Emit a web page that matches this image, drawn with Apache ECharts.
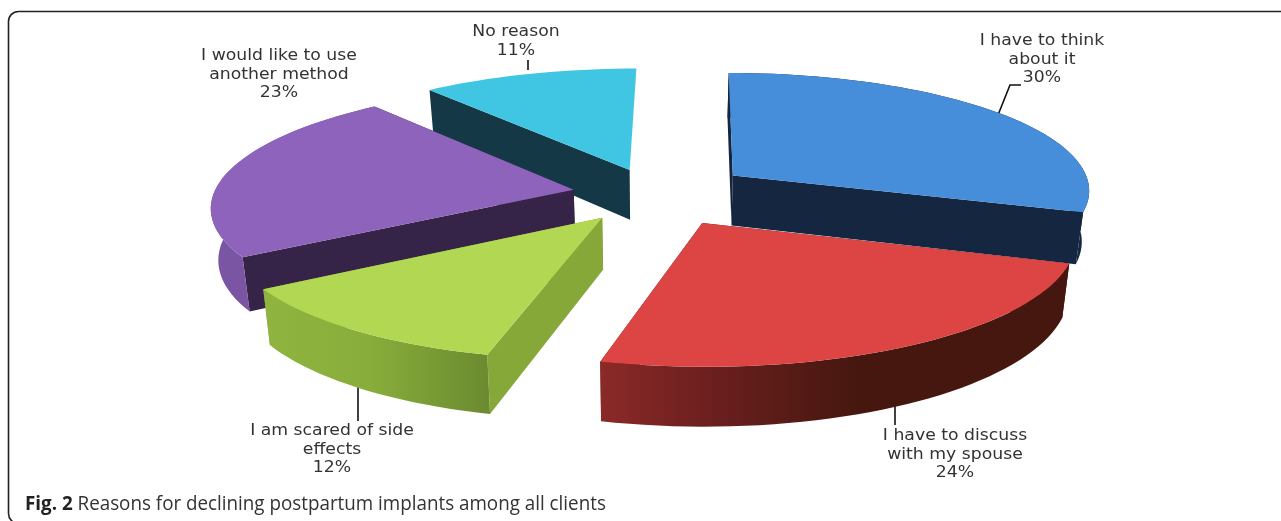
<!DOCTYPE html>
<html><head><meta charset="utf-8"><style>html,body{margin:0;padding:0;background:#fff}#c{width:1281px;height:521px}</style>
<script src="https://cdn.jsdelivr.net/npm/echarts@6/dist/echarts.min.js"></script></head>
<body><div id="c"></div>
<script>
const categories = ['I have to think about it','I have to discuss with my spouse','I am scared of side effects','I would like to use another method','No reason'];
const values = [30,24,12,23,11];
const labelLines = [['I have to think','about it','30%'],['I have to discuss','with my spouse','24%'],['I am scared of side','effects','12%'],['I would like to use','another method','23%'],['No reason','11%']];
const caption = ['Fig. 2',' Reasons for declining postpartum implants among all clients'];

// Styling and projection settings
const VIEW = {cx:655, cy:194, A:360, B:119, kx:0.12, ky:0.12, H:51, shear:-4, taper:0.017};
const explode = [0.27,0.27,0.24,0.23,0.22];
const paintOrder = [1,4,3,2,0];
const topColor = ['#468ed9','#dc4544','#b2d752','#8d63bb','#40c6e2'];
const startWall = ['#152640','#45170f','#86a838','#352447','#153846'];
const endWall = ['#152640','#45170f','#86a838','#352447','none'];
const outerStops = [
  [[1000,'#152640'],[1100,'#152640']],
  [[597,'#8c2a28'],[700,'#6e201f'],[860,'#45170f'],[1070,'#45170f']],
  [[265,'#8fb43f'],[370,'#88ad3a'],[485,'#6c8c30']],
  [[209,'#7a55a3'],[250,'#7a55a3']],
  [[430,'#153846'],[640,'#153846']]
];
const labelCenter = [[1042,41],[955,436],[332,431],[279,56],[516,32]];
const leaders = [[[998,115],[1010,85],[1021,85]],[[895,405],[895,425]],[[358,387],[358,421]],[],[[528,60],[528,70]]];
const LINE_H = 18.8;

function project(X,Y,z){
  const wx = 1-VIEW.kx*Y, wy = 1-VIEW.ky*Y;
  return [VIEW.cx+(1-VIEW.taper*z)*VIEW.A*X/wx+VIEW.shear*Y, VIEW.cy+VIEW.B*Y/wy+z*VIEW.H/wy];
}
const total = values.reduce((a,b)=>a+b,0);
function sliceAngles(i){
  let s=0; for(let j=0;j<i;j++) s+=values[j];
  return [s/total*2*Math.PI,(s+values[i])/total*2*Math.PI];
}
function renderSlice(params,api){
  const i = params.dataIndex;
  const [a0,a1] = sliceAngles(i);
  const mid = (a0+a1)/2;
  const ox = explode[i]*Math.sin(mid), oy = -explode[i]*Math.cos(mid);
  const pt=(r,t,z)=>project(ox+r*Math.sin(t),oy-r*Math.cos(t),z);
  const n = Math.max(8,Math.round((a1-a0)/(Math.PI/90)));
  const topArc=[],botArc=[];
  for(let k=0;k<=n;k++){const t=a0+(a1-a0)*k/n;topArc.push(pt(1,t,0));botArc.push(pt(1,t,1));}
  const apexT=pt(0,0,0),apexB=pt(0,0,1);
  const z=paintOrder[i]*10;
  const xs=outerStops[i].map(s=>s[0]),x0=xs[0],x1=xs[xs.length-1];
  const grad=new echarts.graphic.LinearGradient(x0,0,x1,0,outerStops[i].map(s=>({offset:(s[0]-x0)/(x1-x0),color:s[1]})),true);
  const kids=[
    {type:'polygon',z2:z,shape:{points:[apexT,apexB,botArc[0],topArc[0]]},style:{fill:startWall[i]}},
    {type:'polygon',z2:z+1,shape:{points:[apexT,apexB,botArc[n],topArc[n]]},style:{fill:endWall[i]}},
    {type:'polygon',z2:z+3,shape:{points:[apexT].concat(topArc)},style:{fill:topColor[i]}}
  ];
  if(endWall[i]!=='none') kids.push({type:'polygon',z2:z+2,shape:{points:topArc.concat(botArc.slice().reverse())},style:{fill:grad}});
  return {type:'group',children:kids};
}
const chart = echarts.init(document.getElementById('c'),null,{renderer:'canvas'});
const gfx=[{type:'rect',shape:{x:8.5,y:11.5,width:1320,height:512,r:10},style:{fill:'none',stroke:'#222',lineWidth:1.6},z:0}];
labelLines.forEach((lines,i)=>{
  lines.forEach((t,j)=>gfx.push({type:'text',z:5,x:labelCenter[i][0],y:labelCenter[i][1]+j*LINE_H,scaleX:1.15,
    style:{text:t,fill:'#333',font:'15px "DejaVu Sans"',textAlign:'center',textVerticalAlign:'middle'}}));
  if(leaders[i].length) gfx.push({type:'polyline',z:1,shape:{points:leaders[i]},style:{stroke:'#111',lineWidth:1.6,fill:'none'}});
});
gfx.push({type:'text',z:5,x:25,y:504,scaleX:0.94,style:{
  text:'{b|'+caption[0]+'}{r|'+caption[1]+'}',textVerticalAlign:'middle',
  rich:{b:{font:'bold 20px "Open Sans"',fill:'#222'},r:{font:'20px "Open Sans"',fill:'#333'}}}});
chart.setOption({
  animation:false,
  graphic:gfx,
  series:[{type:'custom',coordinateSystem:'none',silent:true,z:2,renderItem:renderSlice,
    data:categories.map((c,i)=>({name:c,value:values[i]}))}]
});
</script></body></html>
